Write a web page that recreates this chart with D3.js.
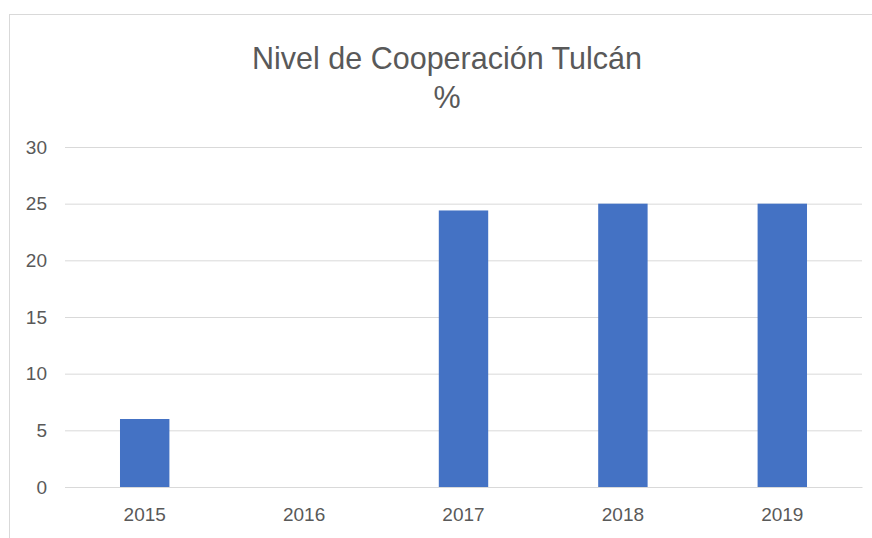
<!DOCTYPE html>
<html>
<head>
<meta charset="utf-8">
<script src="https://cdn.jsdelivr.net/npm/d3@7"></script>
<style>
  body { margin: 0; background: #fff; }
  svg { display: block; font-family: "Liberation Sans", Arial, sans-serif; }
</style>
</head>
<body>
<svg id="chart" width="872" height="538"></svg>
<script>
// data
var years = ['2015', '2016', '2017', '2018', '2019'];
var values = [6, 0, 24.4, 25, 25];
var yTicks = [0, 5, 10, 15, 20, 25, 30];
var titleLines = ['Nivel de Cooperación Tulcán', '%'];

var svg = d3.select('#chart');
var margin = {left: 65, right: 10, top: 147, bottom: 51};
var width = 872 - margin.left - margin.right;
var height = 538 - margin.top - margin.bottom;

// outer chart frame (runs off the right and bottom edge)
svg.append('rect')
    .attr('x', 9.5)
    .attr('y', 14.5)
    .attr('width', 900)
    .attr('height', 600)
    .attr('fill', 'none')
    .attr('stroke', '#d9d9d9');

svg.append('g')
    .selectAll('text')
    .data(titleLines)
    .join('text')
    .attr('x', 447)
    .attr('y', function(d, i) { return 69 + i * 39; })
    .attr('text-anchor', 'middle')
    .attr('font-size', 30.5)
    .attr('fill', '#595959')
    .text(function(d) { return d; });

var g = svg.append('g')
    .attr('transform', 'translate(' + margin.left + ',' + margin.top + ')');

var x = d3.scaleBand()
    .domain(years)
    .range([0, width])
    .paddingInner(0.69)
    .paddingOuter(0.345);

var y = d3.scaleLinear()
    .domain([0, 30])
    .range([height, 0]);

var yAxis = g.append('g')
    .call(d3.axisLeft(y)
        .tickValues(yTicks)
        .tickSize(-width)
        .tickPadding(18));
yAxis.select('.domain').remove();
yAxis.selectAll('line').attr('stroke', '#d9d9d9');
yAxis.selectAll('text')
    .attr('fill', '#595959')
    .attr('font-size', 19)
    .attr('font-family', '"Liberation Sans", Arial, sans-serif');

g.selectAll('rect.bar')
    .data(values)
    .join('rect')
    .attr('class', 'bar')
    .attr('x', function(d, i) { return x(years[i]); })
    .attr('y', function(d) { return y(d); })
    .attr('width', x.bandwidth())
    .attr('height', function(d) { return height - y(d); })
    .attr('fill', '#4472c4');

var xAxis = g.append('g')
    .attr('transform', 'translate(0,' + height + ')')
    .call(d3.axisBottom(x)
        .tickSize(0)
        .tickPadding(21));
xAxis.select('.domain').attr('stroke', '#d9d9d9');
xAxis.selectAll('text')
    .attr('fill', '#595959')
    .attr('font-size', 19)
    .attr('font-family', '"Liberation Sans", Arial, sans-serif');
</script>
</body>
</html>
